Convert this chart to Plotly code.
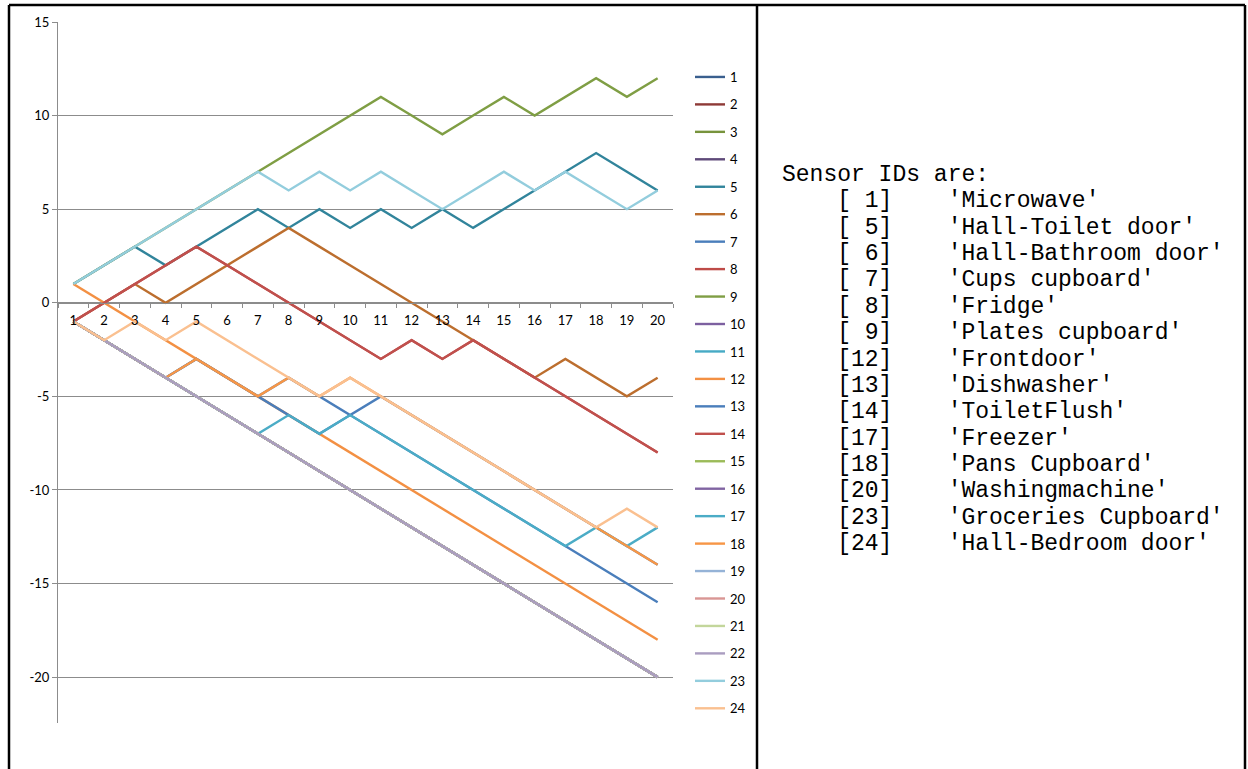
import plotly.graph_objects as go

# ---------------- data ----------------
x_labels = ["1", "2", "3", "4", "5", "6", "7", "8", "9", "10",
            "11", "12", "13", "14", "15", "16", "17", "18", "19", "20"]

never_fired = [-1, -2, -3, -4, -5, -6, -7, -8, -9, -10,
               -11, -12, -13, -14, -15, -16, -17, -18, -19, -20]

s01 = never_fired
s02 = never_fired
s03 = never_fired
s04 = never_fired
s05 = [1, 2, 3, 2, 3, 4, 5, 4, 5, 4, 5, 4, 5, 4, 5, 6, 7, 8, 7, 6]
s06 = [-1, 0, 1, 0, 1, 2, 3, 4, 3, 2, 1, 0, -1, -2, -3, -4, -3, -4, -5, -4]
s07 = [-1, -2, -3, -4, -3, -4, -5, -4, -5, -6, -5, -6, -7, -8, -9, -10, -11, -12, -13, -14]
s08 = [-1, 0, 1, 2, 3, 2, 1, 0, -1, -2, -3, -2, -3, -2, -3, -4, -5, -6, -7, -8]
s09 = [1, 2, 3, 4, 5, 6, 7, 8, 9, 10, 11, 10, 9, 10, 11, 10, 11, 12, 11, 12]
s10 = never_fired
s11 = never_fired
s12 = [1, 0, -1, -2, -3, -4, -5, -6, -7, -8, -9, -10, -11, -12, -13, -14, -15, -16, -17, -18]
s13 = [-1, -2, -3, -4, -3, -4, -5, -6, -7, -6, -7, -8, -9, -10, -11, -12, -13, -14, -15, -16]
s14 = [-1, 0, 1, 2, 3, 2, 1, 0, -1, -2, -3, -2, -3, -2, -3, -4, -5, -6, -7, -8]
s15 = never_fired
s16 = never_fired
s17 = [-1, -2, -3, -4, -5, -6, -7, -6, -7, -6, -7, -8, -9, -10, -11, -12, -13, -12, -13, -12]
s18 = [-1, -2, -3, -4, -3, -4, -5, -4, -5, -4, -5, -6, -7, -8, -9, -10, -11, -12, -13, -14]
s19 = never_fired
s20 = never_fired
s21 = never_fired
s22 = never_fired
s23 = [1, 2, 3, 4, 5, 6, 7, 6, 7, 6, 7, 6, 5, 6, 7, 6, 7, 6, 5, 6]
s24 = [-1, -2, -1, -2, -1, -2, -3, -4, -5, -4, -5, -6, -7, -8, -9, -10, -11, -12, -11, -12]

series_names = ["1", "2", "3", "4", "5", "6", "7", "8", "9", "10", "11", "12",
                "13", "14", "15", "16", "17", "18", "19", "20", "21", "22", "23", "24"]
series_values = [s01, s02, s03, s04, s05, s06, s07, s08, s09, s10, s11, s12,
                 s13, s14, s15, s16, s17, s18, s19, s20, s21, s22, s23, s24]

y_tickvals = [15, 10, 5, 0, -5, -10, -15, -20]
y_ticktext = ["15", "10", "5", "0", "-5", "-10", "-15", "-20"]

sensor_ids = [1, 5, 6, 7, 8, 9, 12, 13, 14, 17, 18, 20, 23, 24]
sensor_names = ["Microwave", "Hall-Toilet door", "Hall-Bathroom door", "Cups cupboard",
                "Fridge", "Plates cupboard", "Frontdoor", "Dishwasher", "ToiletFlush",
                "Freezer", "Pans Cupboard", "Washingmachine", "Groceries Cupboard",
                "Hall-Bedroom door"]

# ---------------- style ----------------
colors = ["#3A5F8E", "#8E3A37", "#77933C", "#5E4979", "#31849B", "#BC6E2E",
          "#4A7EBB", "#BE4B48", "#7F9E44", "#7D60A0", "#46AAC5", "#F39043",
          "#4A7EBB", "#C0504D", "#9BBB59", "#8064A2", "#4BACC6", "#F79646",
          "#95B3D7", "#D99694", "#C3D69B", "#AA9DC0", "#93CDDD", "#FAC090"]

W, H = 1248, 769
PL, PR, PT, PB = 58, 673, 22, 723          # plot area in pixels
Y_MIN, Y_MAX = -22.45, 15


def px_x(px):
    return (px - PL) / (PR - PL)


def px_y(py):
    return (PB - py) / (PB - PT)


fig = go.Figure()
for i, (name, vals) in enumerate(zip(series_names, series_values)):
    fig.add_trace(go.Scatter(
        x=x_labels, y=vals, mode="lines", name=name,
        legendgroup="g" + name,
        line=dict(color=colors[i], width=2.4),
    ))

grid_col = "#8C8C8C"
fig.update_layout(
    width=W, height=H,
    margin=dict(l=PL, r=W - PR, t=PT, b=H - PB, pad=0),
    paper_bgcolor="white", plot_bgcolor="white",
    font=dict(family="Lato, 'Liberation Sans', sans-serif", size=12, color="#000000"),
    showlegend=True,
    legend=dict(
        x=px_x(690), y=px_y(62), xanchor="left", yanchor="top",
        traceorder="grouped", tracegroupgap=7.55,
        font=dict(size=13, color="#000000"),
        bgcolor="rgba(0,0,0,0)", borderwidth=0,
        itemwidth=30,
    ),
    xaxis=dict(
        type="category", range=[-0.5, 19.5],
        anchor="free", position=(0 - Y_MIN) / (Y_MAX - Y_MIN),
        showline=True, linecolor=grid_col, linewidth=1,
        ticks="outside", tickson="boundaries", ticklen=4, tickcolor=grid_col,
        showgrid=False, zeroline=False,
        tickfont=dict(size=13, color="#000000"),
        ticklabelstandoff=6,
        fixedrange=True,
    ),
    yaxis=dict(
        range=[Y_MIN, Y_MAX],
        tickmode="array", tickvals=y_tickvals, ticktext=y_ticktext,
        showline=True, linecolor=grid_col, linewidth=1,
        ticks="outside", ticklen=5, tickcolor=grid_col,
        showgrid=True, gridcolor=grid_col, gridwidth=1,
        zeroline=False,
        tickfont=dict(size=13, color="#000000"),
        ticklabelstandoff=0,
    ),
)

# frame of the table cells
frame = [
    (9, 5, 1245, 5),
    (9, 5, 9, 769),
    (757, 5, 757, 769),
    (1245, 5, 1245, 769),
]
for x0, y0, x1, y1 in frame:
    fig.add_shape(type="line", xref="paper", yref="paper",
                  x0=px_x(x0), y0=px_y(y0), x1=px_x(x1), y1=px_y(y1),
                  line=dict(color="#000000", width=2.5))

# right cell text
NB = "\u00a0"
lines_txt = ["Sensor" + NB + "IDs" + NB + "are:"]
for sid, nm in zip(sensor_ids, sensor_names):
    lines_txt.append(NB * 4 + "[" + ("%2d" % sid).replace(" ", NB) + "]" + NB * 4 +
                     "'" + nm.replace(" ", NB) + "'")
line_y0, line_dy = 175, 26.36
for k, t in enumerate(lines_txt):
    fig.add_annotation(
        xref="paper", yref="paper", x=px_x(780), y=px_y(line_y0 + k * line_dy),
        xanchor="left", yanchor="middle", showarrow=False, text=t,
        font=dict(family="'Liberation Mono', 'Courier New', monospace", size=23, color="#000000"),
    )

fig.write_html("out.html", config={"displayModeBar": False},
               post_script="document.body.style.margin='0';document.body.style.overflow='hidden';")
